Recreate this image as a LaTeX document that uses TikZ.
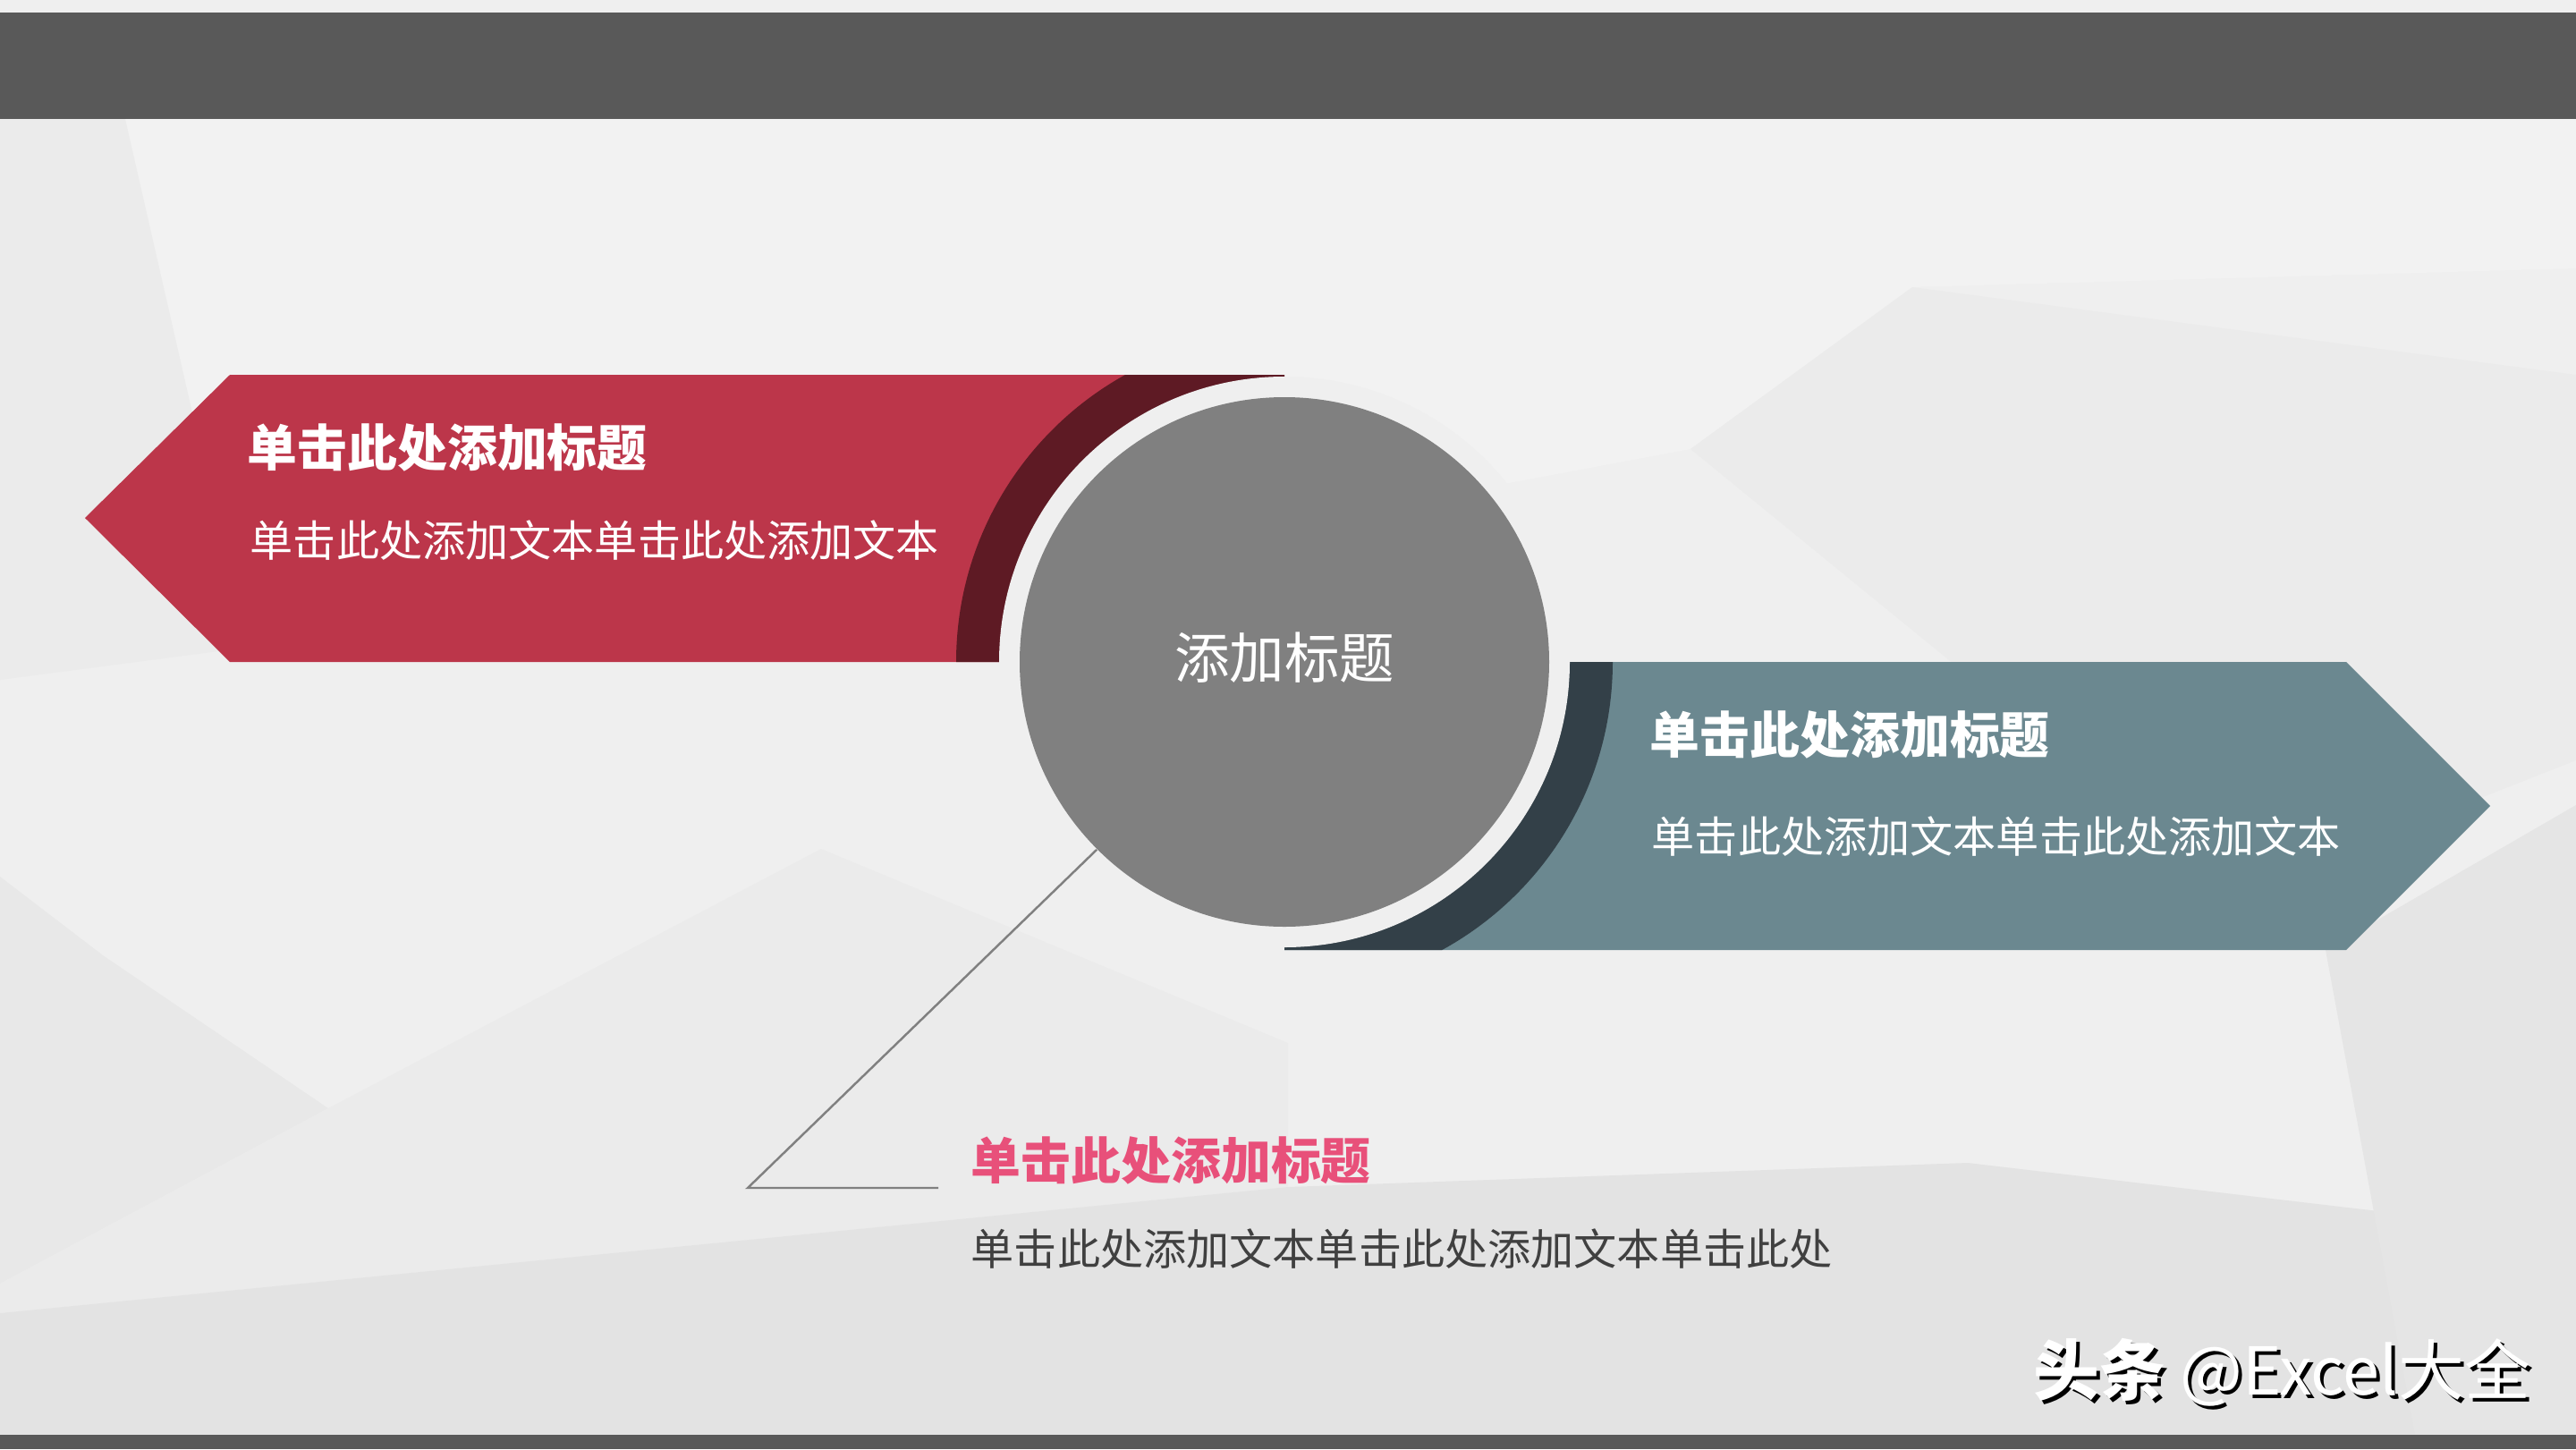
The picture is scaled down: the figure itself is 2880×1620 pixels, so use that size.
\documentclass[tikz,border=0pt]{standalone}
\usepackage{fontspec}
\setmainfont{Noto Sans CJK SC}
\usepackage{tikz}
\usetikzlibrary{positioning}
\definecolor{slideBg}{HTML}{EFEFEF}
\definecolor{barGray}{HTML}{595959}
\definecolor{hubGray}{HTML}{808080}
\definecolor{wineRed}{HTML}{BC364A}
\definecolor{wineDark}{HTML}{5E1A24}
\definecolor{slateTeal}{HTML}{6B8890}
\definecolor{slateDark}{HTML}{334048}
\definecolor{roseText}{HTML}{E8507A}
\definecolor{bodyGray}{HTML}{404040}
\tikzset{
  headline/.style={anchor=west, inner sep=0pt, font=\bfseries\fontsize{15.9}{18}\selectfont},
  bodytext/.style={anchor=west, inner sep=0pt, font=\fontsize{13.7}{16}\selectfont},
  leader/.style={draw=hubGray, line width=0.7pt},
  markfont/.style={anchor=east, inner sep=0pt, font=\fontsize{21}{24}\selectfont}
}
\begin{document}
\begin{tikzpicture}[x=0.1mm, y=-0.1mm]
\useasboundingbox (0,0) rectangle (2880,1620);
% background with soft facets
\fill[slideBg] (0,0) rectangle (2880,1620);
\fill[black!5] (0,133) -- (2880,133) -- (2880,300) -- (2138,321) -- (1890,502) -- (1100,650) -- (0,700) -- cycle;
\fill[black!8] (0,133) -- (140,133) -- (275,724) -- (0,760) -- cycle;
\fill[black!8] (2138,321) -- (2880,419) -- (2880,850) -- (2500,1000) -- (1890,502) -- cycle;
\fill[black!9] (0,980) -- (115,1068) -- (367,1239) -- (0,1435) -- cycle;
\fill[black!8] (367,1239) -- (918,949) -- (1440,1166) -- (1440,1327) -- (0,1468) -- (0,1435) -- cycle;
\fill[black!11] (0,1468) -- (1440,1327) -- (2200,1300) -- (2880,1380) -- (2880,1604) -- (0,1604) -- cycle;
\fill[black!10] (2600,1062) -- (2880,900) -- (2880,1604) -- (2700,1604) -- cycle;
% top and bottom bars
\fill[barGray] (0,14) rectangle (2880,133);
\fill[barGray] (0,1604) rectangle (2880,1620);
% left arrow with dark rim
\begin{scope}
  \clip (95,579) -- (257,419) -- (1436,419) -- (1436,740) -- (257,740) -- cycle;
  \fill[wineRed] (0,400) rectangle (1436,760);
  \fill[wineDark] (1436,740) circle[radius=367];
\end{scope}
% right arrow with dark rim
\begin{scope}
  \clip (1436,740) -- (2623,740) -- (2784,901) -- (2623,1062) -- (1436,1062) -- cycle;
  \fill[slateTeal] (1400,720) rectangle (2800,1080);
  \fill[slateDark] (1436,740) circle[radius=367];
\end{scope}
% gap ring and hub
\fill[slideBg] (1436,740) circle[radius=319];
\node[circle, fill=hubGray, minimum size=59.2mm, inner sep=0pt, text=white,
      font=\fontsize{17.5}{20}\selectfont] (hub) at (1436,740) {\raisebox{1.4mm}{添加标题}};
% texts
\node[headline, text=white] (redHead) at (276,500) {单击此处添加标题};
\node[bodytext, text=white] (redBody) at (279,604) {单击此处添加文本单击此处添加文本};
\node[headline, text=white] (tealHead) at (1844,821) {单击此处添加标题};
\node[bodytext, text=white] (tealBody) at (1846,935) {单击此处添加文本单击此处添加文本};
\node[headline, text=roseText] (roseHead) at (1085,1297) {单击此处添加标题};
\node[bodytext, text=bodyGray] (roseBody) at (1085,1396) {单击此处添加文本单击此处添加文本单击此处};
% leader line
\coordinate (elbow) at (836,1328);
\coordinate (tail) at (1049,1328);
\draw[leader] (hub.south west) -- (elbow) -- (tail);
% watermark
\node[markfont, text=black] (markShadow) at (2834,1538) {{\bfseries 头条} @Excel大全};
\node[markfont, text=white] (mark) at (2830,1534) {{\bfseries 头条} @Excel大全};
\end{tikzpicture}
\end{document}
